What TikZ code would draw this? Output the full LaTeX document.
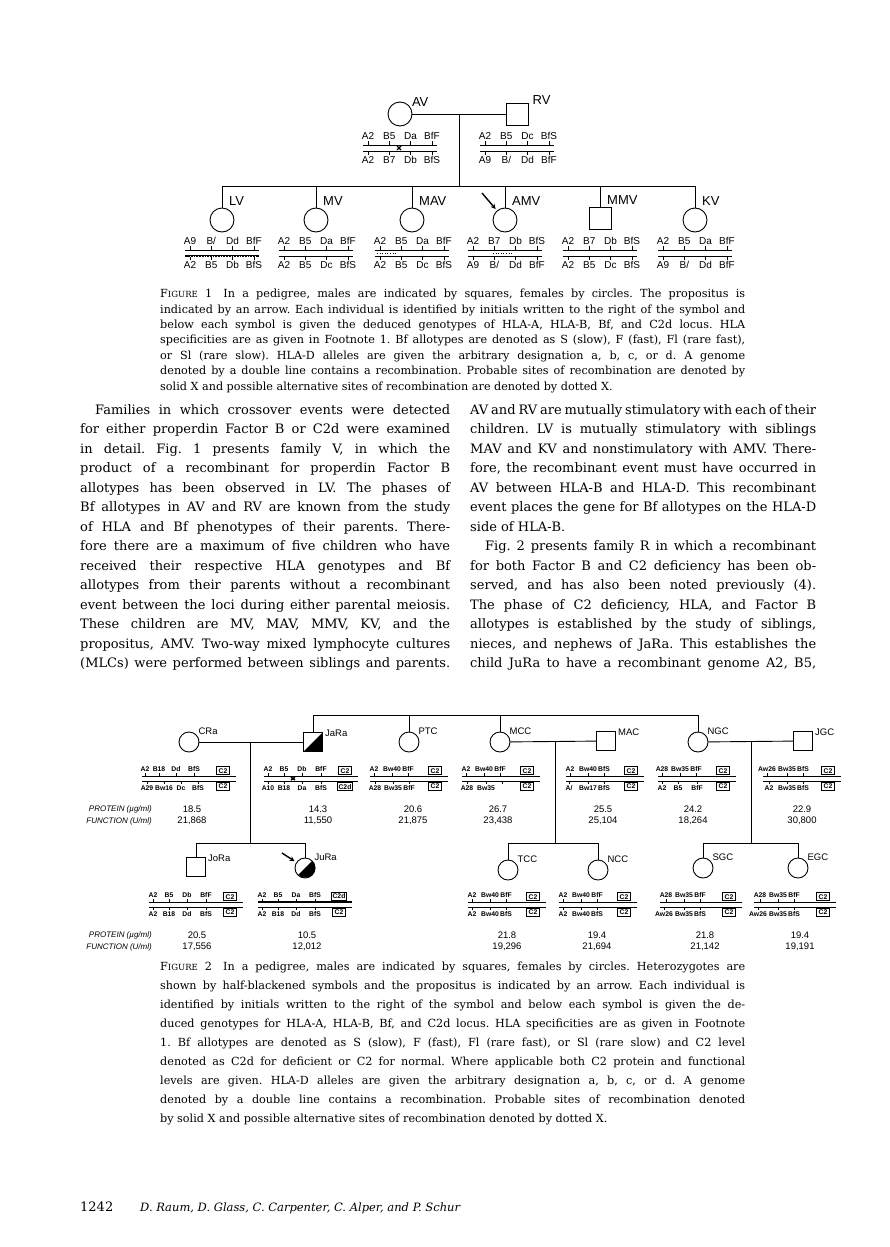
\documentclass[tikz,border=0pt]{standalone}
\usepackage{fontspec}
\setmainfont{DejaVu Serif}
\setsansfont{Liberation Sans}
\usetikzlibrary{arrows.meta}

% justified lines of the page text
\newcommand{\lcol}[1]{\makebox[370pt][s]{#1}}
\newcommand{\rcol}[1]{\makebox[346pt][s]{#1}}
\newcommand{\capl}[1]{\makebox[585pt][s]{#1}}
\newcommand{\figname}[1]{F{\fontsize{8.5}{8.5}\selectfont IGURE}~#1}

% genotype pair, figure 1: name, x, y of upper line, upper alleles, lower alleles
\newcommand{\genI}[5]{%
  \draw[chrom] (#2-37,#3) -- (#2+37,#3);
  \draw[chrom] (#2-37,#3+6) -- (#2+37,#3+6);
  \foreach \al [count=\i] in {#4}
    \draw[chrom] ({#2-53.3+21.3*\i},#3) -- ++(0,-4) node[gtI,above] (#1-a\i) {\al};
  \foreach \al [count=\i] in {#5}
    \draw[chrom] ({#2-53.3+21.3*\i},#3+6) -- ++(0,4) node[gtI,below] (#1-b\i) {\al};
}
% genotype pair, figure 2: name, x, y, half width, upper, lower, upper box, lower box
\newcommand{\genII}[8]{%
  \draw[chrom] (#2-#4,#3) -- (#2+#4,#3);
  \draw[chrom] (#2-#4,#3+5) -- (#2+#4,#3+5);
  \foreach \dx/\al [count=\i] in {#5}
    \draw[chrom] ({#2+\dx},#3) -- ++(0,-3) node[gtII,above] (#1-a\i) {\al};
  \foreach \dx/\al [count=\i] in {#6}
    \draw[chrom] ({#2+\dx},#3+5) -- ++(0,3) node[gtII,below] (#1-b\i) {\al};
  \node[box#7,anchor=south] (#1-ca) at (#2+#4-13,#3-1) {#7};
  \node[box#8,anchor=north] (#1-cb) at (#2+#4-13,#3+6) {#8};
}

\begin{document}
\begin{tikzpicture}[x=1pt,y=-1pt,
  ped/.style={line width=0.9pt},
  chrom/.style={line width=0.7pt},
  recomb/.style={line width=2.6pt},
  fem/.style={draw,circle,line width=0.9pt,minimum size=24pt,inner sep=0pt},
  mal/.style={draw,rectangle,line width=0.9pt,minimum size=22pt,inner sep=0pt},
  femII/.style={fem,minimum size=20pt},
  malII/.style={mal,minimum size=19pt},
  nameI/.style={anchor=base west,inner sep=0pt,font=\sffamily\fontsize{13}{13}\selectfont},
  nameII/.style={anchor=base west,inner sep=0pt,font=\sffamily\fontsize{9.5}{9.5}\selectfont},
  gtI/.style={inner sep=1pt,text height=7.2pt,text depth=0pt,font=\sffamily\fontsize{10}{10}\selectfont},
  gtII/.style={inner sep=0.8pt,text height=5pt,text depth=0pt,font=\sffamily\bfseries\fontsize{6.8}{6.8}\selectfont},
  boxC2/.style={draw,line width=0.6pt,inner sep=0.8pt,minimum width=13pt,minimum height=8pt,
    font=\sffamily\bfseries\fontsize{6.8}{6.8}\selectfont},
  boxC2d/.style={boxC2,line width=1.3pt},
  val/.style={inner sep=0pt,font=\sffamily\fontsize{9.5}{9.5}\selectfont},
  lab/.style={anchor=east,inner sep=0pt,font=\sffamily\itshape\fontsize{8}{8}\selectfont},
  xmark/.style={line width=1.4pt},
  pmark/.style={dotted,line width=0.6pt},
  prop/.style={-{Stealth[length=5pt,width=5pt]},line width=1.4pt,shorten >=2pt},
  body/.style={anchor=north west,inner sep=0pt,align=left,font=\fontsize{13}{19.5}\selectfont\frenchspacing},
  capt/.style={anchor=north west,inner sep=0pt,align=left,font=\fontsize{11.2}{15.4}\selectfont\frenchspacing}]
\fill[white] (0,0) rectangle (890,1247);
\useasboundingbox (0,0) rectangle (890,1247);

% ---------- figure 1: family V
\node[fem] (AV) at (400,114) {};
\node[mal] (RV) at (517,114) {};
\node[nameI] (AV-n) at ([xshift=3pt,yshift=-1pt]AV.north east) {AV};
\node[nameI] (RV-n) at ([xshift=4pt,yshift=-2pt]RV.north east) {RV};
\draw[ped] (AV) -- (RV);
\coordinate (mV) at (459,114); \coordinate (sV) at (459,186);
\draw[ped] (mV) -- (sV);
\genI{AV}{400}{145}{A2,B5,Da,BfF}{A2,B7,Db,BfS}
\genI{RV}{517}{145}{A2,B5,Dc,BfS}{A9,B/,Dd,BfF}
\draw[xmark] (397,146) -- (401,150) (397,150) -- (401,146);

\node[fem] (LV) at (222,220) {};
\node[fem] (MV) at (316,220) {};
\node[fem] (MAV) at (412,220) {};
\node[fem] (AMV) at (505,220) {};
\node[mal] (MMV) at (600,218) {};
\node[fem] (KV) at (695,220) {};
\draw[ped] (LV |- sV) -- (KV |- sV);
\foreach \c in {LV,MV,MAV,AMV,MMV,KV} {
  \draw[ped] (\c |- sV) -- (\c);
  \node[nameI] (\c-n) at ([xshift=7pt,yshift=2pt]\c.north) {\c};
}
\coordinate (pAMV) at (482,193);
\draw[prop] (pAMV) -- (AMV);

\genI{LV}{222}{250}{A9,B/,Dd,BfF}{A2,B5,Db,BfS}
\genI{MV}{316}{250}{A2,B5,Da,BfF}{A2,B5,Dc,BfS}
\genI{MAV}{412}{250}{A2,B5,Da,BfF}{A2,B5,Dc,BfS}
\genI{AMV}{505}{250}{A2,B7,Db,BfS}{A9,B/,Dd,BfF}
\genI{MMV}{600}{250}{A2,B7,Db,BfS}{A2,B5,Dc,BfS}
\genI{KV}{695}{250}{A2,B5,Da,BfF}{A9,B/,Dd,BfF}
\draw[recomb] (185,256) -- (259,256);
\draw[white,dotted,line width=0.7pt] (190,256) -- (255,256);
\draw[pmark] (377,253) -- (397,253);
\draw[pmark] (493,253) -- (513,253);

\node[capt] (cap1) at (160,289) {%
\capl{\figname{1}\quad In a pedigree, males are indicated by squares, females by circles. The propositus is}\\
\capl{indicated by an arrow. Each individual is identified by initials written to the right of the symbol and}\\
\capl{below each symbol is given the deduced genotypes of HLA-A, HLA-B, Bf, and C2d locus. HLA}\\
\capl{specificities are as given in Footnote 1. Bf allotypes are denoted as S (slow), F (fast), Fl (rare fast),}\\
\capl{or Sl (rare slow). HLA-D alleles are given the arbitrary designation a, b, c, or d. A genome}\\
\capl{denoted by a double line contains a recombination. Probable sites of recombination are denoted by}\\
solid X and possible alternative sites of recombination are denoted by dotted X.};

% ---------- text columns
\node[body] (colL) at (80,404) {%
\hspace*{15pt}\makebox[355pt][s]{Families in which crossover events were detected}\\
\lcol{for either properdin Factor B or C2d were examined}\\
\lcol{in detail. Fig. 1 presents family V, in which the}\\
\lcol{product of a recombinant for properdin Factor B}\\
\lcol{allotypes has been observed in LV. The phases of}\\
\lcol{Bf allotypes in AV and RV are known from the study}\\
\lcol{of HLA and Bf phenotypes of their parents. There-}\\
\lcol{fore there are a maximum of five children who have}\\
\lcol{received their respective HLA genotypes and Bf}\\
\lcol{allotypes from their parents without a recombinant}\\
\lcol{event between the loci during either parental meiosis.}\\
\lcol{These children are MV, MAV, MMV, KV, and the}\\
\lcol{propositus, AMV. Two-way mixed lymphocyte cultures}\\
\lcol{(MLCs) were performed between siblings and parents.}};

\node[body] (colR) at (470,404) {%
\rcol{AV and RV are mutually stimulatory with each of their}\\
\rcol{children. LV is mutually stimulatory with siblings}\\
\rcol{MAV and KV and nonstimulatory with AMV. There-}\\
\rcol{fore, the recombinant event must have occurred in}\\
\rcol{AV between HLA-B and HLA-D. This recombinant}\\
\rcol{event places the gene for Bf allotypes on the HLA-D}\\
side of HLA-B.\\
\hspace*{15pt}\makebox[331pt][s]{Fig. 2 presents family R in which a recombinant}\\
\rcol{for both Factor B and C2 deficiency has been ob-}\\
\rcol{served, and has also been noted previously (4).}\\
\rcol{The phase of C2 deficiency, HLA, and Factor B}\\
\rcol{allotypes is established by the study of siblings,}\\
\rcol{nieces, and nephews of JaRa. This establishes the}\\
\rcol{child JuRa to have a recombinant genome A2, B5,}};

% ---------- figure 2: family R
\node[femII] (CRa) at (189,742) {};
\node[malII] (JaRa) at (313,742) {};
\node[femII] (PTC) at (409,742) {};
\node[femII] (MCC) at (500,742) {};
\node[malII] (MAC) at (606,741) {};
\node[femII] (NGC) at (698,742) {};
\node[malII] (JGC) at (803,741) {};
\fill (JaRa.south west) -- (JaRa.south east) -- (JaRa.north east) -- cycle;
\foreach \c in {CRa,PTC,MCC,NGC}
  \node[nameII] (\c-n) at ([xshift=2pt]\c.north east) {\c};
\foreach \c in {JaRa,MAC,JGC}
  \node[nameII] (\c-n) at ([xshift=2pt,yshift=-4pt]\c.north east) {\c};

\coordinate (topR) at (313,715);
\draw[ped] (JaRa |- topR) -- (NGC |- topR);
\foreach \c in {JaRa,PTC,MCC,NGC} \draw[ped] (\c |- topR) -- (\c);
\draw[ped] (CRa) -- (JaRa);
\draw[ped] (MCC) -- (MAC);
\draw[ped] (NGC) -- (JGC);
\coordinate (mR) at (250,742); \coordinate (sR) at (250,843);
\coordinate (mM) at (555,742); \coordinate (sM) at (555,843);
\coordinate (mN) at (751,742); \coordinate (sN) at (751,843);
\draw[ped] (mR) -- (sR); \draw[ped] (mM) -- (sM); \draw[ped] (mN) -- (sN);

\node[malII] (JoRa) at (196,867) {};
\node[femII] (JuRa) at (305,868) {};
\node[femII] (TCC) at (508,870) {};
\node[femII] (NCC) at (598,870) {};
\node[femII] (SGC) at (703,868) {};
\node[femII] (EGC) at (798,868) {};
\fill (JuRa.north east) arc[start angle=45,end angle=-135,radius=10pt] -- cycle;
\node[nameII] (JoRa-n) at ([xshift=2pt,yshift=-4pt]JoRa.north east) {JoRa};
\foreach \c in {JuRa,TCC,NCC,SGC,EGC}
  \node[nameII] (\c-n) at ([xshift=2pt]\c.north east) {\c};
\draw[ped] (JoRa |- sR) -- (JuRa |- sR);
\draw[ped] (TCC |- sM) -- (NCC |- sM);
\draw[ped] (SGC |- sN) -- (EGC |- sN);
\foreach \c/\s in {JoRa/sR,JuRa/sR,TCC/sM,NCC/sM,SGC/sN,EGC/sN}
  \draw[ped] (\c |- \s) -- (\c);
\coordinate (pJuRa) at (282,853);
\draw[prop] (pJuRa) -- (JuRa);

\genII{CRa}{189}{776}{47}{-44/A2,-30/B18,-13/Dd,5/BfS}{-42/A29,-25/Bw16,-8/Dc,9/BfS}{C2}{C2}
\genII{JaRa}{311}{776}{47}{-43/A2,-27/B5,-9/Db,10/BfF}{-43/A10,-27/B18,-9/Da,10/BfS}{C2}{C2d}
\genII{PTC}{409}{776}{39}{-35/A2,-17/Bw40,-1/BfF}{-34/A28,-16/Bw35,0/BfF}{C2}{C2}
\genII{MCC}{501}{776}{39}{-35/A2,-17/Bw40,-1/BfF}{-34/A28,-15/Bw35,1/}{C2}{C2}
\genII{MAC}{605}{776}{39}{-35/A2,-17/Bw40,-1/BfS}{-36/{A/},-17/Bw17,-1/BfS}{C2}{C2}
\genII{NGC}{697}{776}{39}{-35/A28,-17/Bw35,-1/BfF}{-35/A2,-19/B5,0/BfF}{C2}{C2}
\genII{JGC}{802}{776}{39}{-35/Aw26,-15/Bw35,1/BfS}{-33/A2,-15/Bw35,1/BfS}{C2}{C2}
\draw[xmark] (291,777) -- (295,780) (291,780) -- (295,777);

\genII{JoRa}{196}{902}{47}{-43/A2,-27/B5,-9/Db,10/BfF}{-43/A2,-27/B18,-9/Dd,10/BfS}{C2}{C2}
\genII{JuRa}{305}{902}{47}{-43/A2,-27/B5,-9/Da,10/BfS}{-43/A2,-27/B18,-9/Dd,10/BfS}{C2d}{C2}
\draw[recomb] (258,902) -- (352,902);
\genII{TCC}{507}{902}{39}{-35/A2,-17/Bw40,-1/BfF}{-35/A2,-17/Bw40,-1/BfS}{C2}{C2}
\genII{NCC}{598}{902}{39}{-35/A2,-17/Bw40,-1/BfF}{-35/A2,-17/Bw40,-1/BfS}{C2}{C2}
\genII{SGC}{701}{902}{41}{-35/A28,-17/Bw35,-1/BfF}{-37/Aw26,-17/Bw35,-1/BfS}{C2}{C2}
\genII{EGC}{795}{902}{41}{-35/A28,-17/Bw35,-1/BfF}{-37/Aw26,-17/Bw35,-1/BfS}{C2}{C2}

\node[lab] (prot1) at (152,809) {PROTEIN (µg/ml)};
\node[lab] (func1) at (152,821) {FUNCTION (U/ml)};
\node[lab] (prot2) at (152,935) {PROTEIN (µg/ml)};
\node[lab] (func2) at (152,947) {FUNCTION (U/ml)};
\node[val] (CRa-p) at (192,809) {18.5};   \node[val] (CRa-f) at (192,821) {21,868};
\node[val] (JaRa-p) at (318,809) {14.3};  \node[val] (JaRa-f) at (318,821) {11,550};
\node[val] (PTC-p) at (413,809) {20.6};   \node[val] (PTC-f) at (413,821) {21,875};
\node[val] (MCC-p) at (498,809) {26.7};   \node[val] (MCC-f) at (498,821) {23,438};
\node[val] (MAC-p) at (603,809) {25.5};   \node[val] (MAC-f) at (603,821) {25,104};
\node[val] (NGC-p) at (693,809) {24.2};   \node[val] (NGC-f) at (693,821) {18,264};
\node[val] (JGC-p) at (802,809) {22.9};   \node[val] (JGC-f) at (802,821) {30,800};
\node[val] (JoRa-p) at (197,935) {20.5};  \node[val] (JoRa-f) at (197,947) {17,556};
\node[val] (JuRa-p) at (307,935) {10.5};  \node[val] (JuRa-f) at (307,947) {12,012};
\node[val] (TCC-p) at (507,935) {21.8};   \node[val] (TCC-f) at (507,947) {19,296};
\node[val] (NCC-p) at (597,935) {19.4};   \node[val] (NCC-f) at (597,947) {21,694};
\node[val] (SGC-p) at (705,935) {21.8};   \node[val] (SGC-f) at (705,947) {21,142};
\node[val] (EGC-p) at (800,935) {19.4};   \node[val] (EGC-f) at (800,947) {19,191};

\node[capt,font=\fontsize{11.2}{19}\selectfont\frenchspacing] (cap2) at (160,962) {%
\capl{\figname{2}\quad In a pedigree, males are indicated by squares, females by circles. Heterozygotes are}\\
\capl{shown by half-blackened symbols and the propositus is indicated by an arrow. Each individual is}\\
\capl{identified by initials written to the right of the symbol and below each symbol is given the de-}\\
\capl{duced genotypes for HLA-A, HLA-B, Bf, and C2d locus. HLA specificities are as given in Footnote}\\
\capl{1. Bf allotypes are denoted as S (slow), F (fast), Fl (rare fast), or Sl (rare slow) and C2 level}\\
\capl{denoted as C2d for deficient or C2 for normal. Where applicable both C2 protein and functional}\\
\capl{levels are given. HLA-D alleles are given the arbitrary designation a, b, c, or d. A genome}\\
\capl{denoted by a double line contains a recombination. Probable sites of recombination denoted}\\
by solid X and possible alternative sites of recombination denoted by dotted X.};

% ---------- running foot
\node[anchor=base west,inner sep=0pt,font=\fontsize{13}{13}\selectfont] (pg) at (80,1211) {1242};
\node[anchor=base west,inner sep=0pt,font=\fontsize{11.5}{12}\selectfont\itshape] (auth) at (140,1211)
  {D. Raum, D. Glass, C. Carpenter, C. Alper, and P. Schur};
\end{tikzpicture}
\end{document}
